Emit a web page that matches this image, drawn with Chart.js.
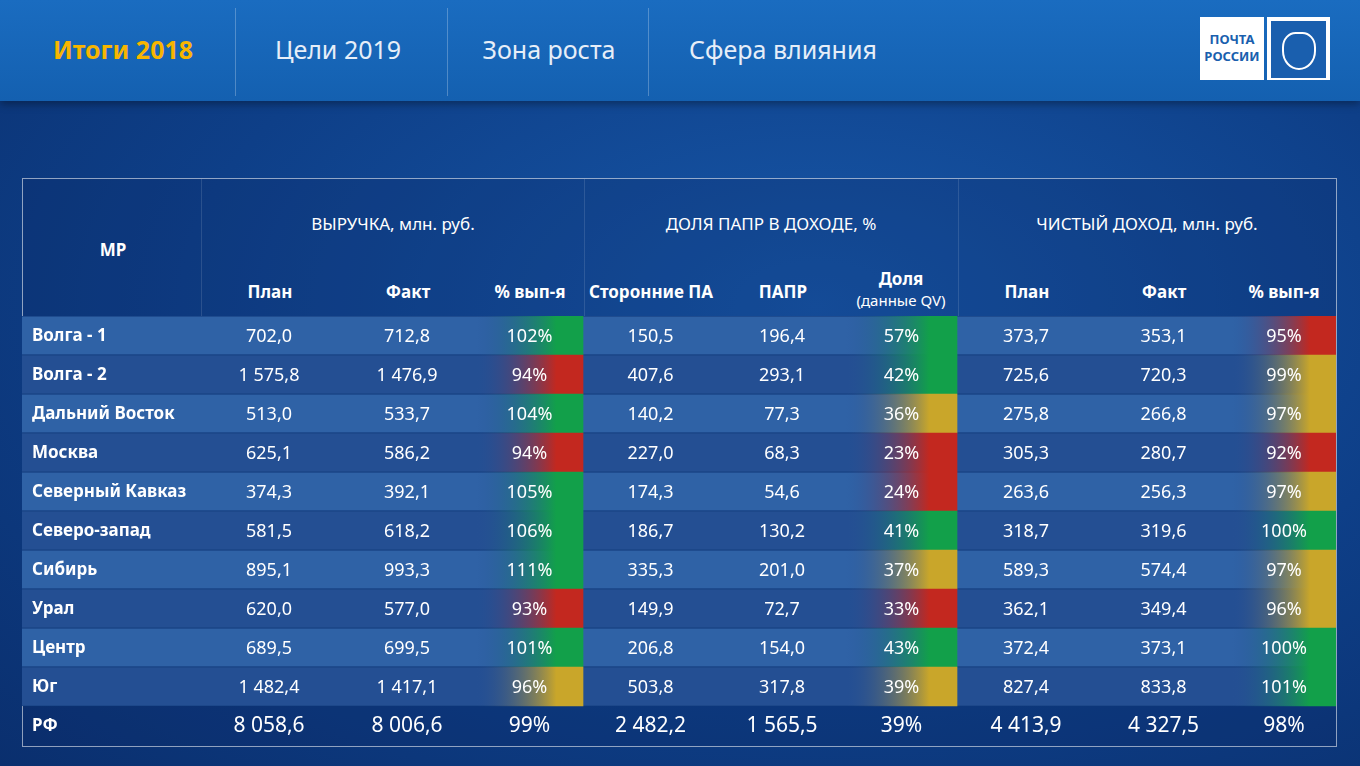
<!DOCTYPE html>
<html><head><meta charset="utf-8">
<script src="https://cdn.jsdelivr.net/npm/chart.js@4"></script>
<style>
body{margin:0;width:1360px;height:766px;overflow:hidden;font-family:"Noto Sans",sans-serif;color:#fff;
 background:radial-gradient(ellipse at 60% 40%,#1757a8 0%,#0e3f88 55%,#0a2f6e 100%);position:relative}
#top{position:absolute;left:0;top:0;width:1360px;height:101px;background:linear-gradient(180deg,#1a6cc0,#1460b0);box-shadow:0 3px 8px rgba(0,0,0,.35)}
.tab{position:absolute;top:32px;font-size:25px;color:#e6eef8;transform:translateX(-50%)}
.sep{position:absolute;top:8px;width:1px;height:88px;background:rgba(255,255,255,.25)}
.logo{position:absolute;top:17px;height:63px;background:#fff}
#tbl{position:absolute;left:22px;top:178px;width:1313px;height:567px;border:1px solid rgba(255,255,255,.55);background:rgba(10,40,100,.25)}
.h{position:absolute;font-weight:bold;font-size:17px;text-align:center;transform:translate(-50%,-50%);white-space:nowrap}
.g{position:absolute;font-size:17px;transform:translate(-50%,-50%);white-space:nowrap}
.vl{position:absolute;top:0;width:1px;height:138px;background:rgba(255,255,255,.12)}
#wrap{position:absolute;left:22px;top:316px;width:1314px;height:429px}
</style></head><body>
<div id="top">
 <div class="tab" style="left:123px;color:#f7b500;font-weight:bold">Итоги 2018</div>
 <div class="sep" style="left:235px"></div>
 <div class="tab" style="left:338px">Цели 2019</div>
 <div class="sep" style="left:447px"></div>
 <div class="tab" style="left:549px">Зона роста</div>
 <div class="sep" style="left:648px"></div>
 <div class="tab" style="left:783px">Сфера влияния</div>
 <div class="logo" style="left:1200px;width:64px;color:#1a5fae;font-weight:bold;font-size:13px;line-height:17px;text-align:center;padding-top:14px;height:49px">ПОЧТА<br>РОССИИ</div>
 <div class="logo" style="left:1267px;width:63px;"><div style="margin:4px;height:55px;border:1px solid #1a5fae;background:#1a5fae"><div style="margin:10px auto;width:30px;height:34px;border:2px solid #fff;border-radius:40% 40% 50% 50%"></div></div></div>
</div>
<div id="tbl">
 <div class="vl" style="left:178px"></div><div class="vl" style="left:561px"></div><div class="vl" style="left:935px"></div>
 <div class="h" style="left:90px;top:70px">МР</div>
 <div class="g" style="left:370px;top:44px">ВЫРУЧКА, млн. руб.</div>
 <div class="g" style="left:748px;top:44px">ДОЛЯ ПАПР В ДОХОДЕ, %</div>
 <div class="g" style="left:1124px;top:44px">ЧИСТЫЙ ДОХОД, млн. руб.</div>
 <div class="h" style="left:247px;top:112px">План</div>
 <div class="h" style="left:385px;top:112px">Факт</div>
 <div class="h" style="left:507px;top:112px">% вып-я</div>
 <div class="h" style="left:628px;top:112px">Сторонние ПА</div>
 <div class="h" style="left:760px;top:112px">ПАПР</div>
 <div class="h" style="left:878px;top:110px;line-height:21px">Доля<br><span style="font-weight:normal;font-size:15px">(данные QV)</span></div>
 <div class="h" style="left:1004px;top:112px">План</div>
 <div class="h" style="left:1141px;top:112px">Факт</div>
 <div class="h" style="left:1261px;top:112px">% вып-я</div>
</div>
<div id="wrap"><canvas id="c"></canvas></div>
<script>
// ── данные таблицы ──
const regions    = ['Волга - 1','Волга - 2','Дальний Восток','Москва','Северный Кавказ','Северо-запад','Сибирь','Урал','Центр','Юг','РФ'];
const revPlan    = [702.0,1575.8,513.0,625.1,374.3,581.5,895.1,620.0,689.5,1482.4,8058.6];
const revFact    = [712.8,1476.9,533.7,586.2,392.1,618.2,993.3,577.0,699.5,1417.1,8006.6];
const revPct     = [102,94,104,94,105,106,111,93,101,96,99];
const thirdParty = [150.5,407.6,140.2,227.0,174.3,186.7,335.3,149.9,206.8,503.8,2482.2];
const papr       = [196.4,293.1,77.3,68.3,54.6,130.2,201.0,72.7,154.0,317.8,1565.5];
const paprShare  = [57,42,36,23,24,41,37,33,43,39,39];
const netPlan    = [373.7,725.6,275.8,305.3,263.6,318.7,589.3,362.1,372.4,827.4,4413.9];
const netFact    = [353.1,720.3,266.8,280.7,256.3,319.6,574.4,349.4,373.1,833.8,4327.5];
const netPct     = [95,99,97,92,97,100,97,96,100,101,98];
// статус ячеек (g/r/y), по картинке
const revState   = ['g','r','g','r','g','g','g','r','g','y'];
const shareState = ['g','g','y','r','r','g','y','r','g','y'];
const netState   = ['r','y','y','r','y','g','y','y','g','g'];

// ── раскладка колонок (px внутри таблицы) ──
const EDGES = [0,178,316,454,561,696,824,935,1073,1210,1314];
const STATE_COLORS = { g:'#12a04a', r:'#c3281f', y:'#c9a62a' };
const N = regions.length - 1;

function fmt(v) {
    const [i, d] = v.toFixed(1).split('.');
    return i.replace(/\B(?=(\d{3})+(?!\d))/g, ' ') + ',' + d;
}

function gradFill(states, col) {
    return ctx => {
        const chart = ctx.chart, area = chart.chartArea;
        if (!area) return 'transparent';
        const x = chart.scales.x;
        const x0 = x.getPixelForValue(EDGES[col]), x1 = x.getPixelForValue(EDGES[col + 1]);
        const g = chart.ctx.createLinearGradient(x0, 0, x1, 0);
        const c = STATE_COLORS[states[ctx.dataIndex]];
        g.addColorStop(0, 'rgba(40,80,150,0)');
        g.addColorStop(0.75, c);
        g.addColorStop(1, c);
        return g;
    };
}

function cellBars(col) {
    return regions.slice(0, N).map(() => [EDGES[col], EDGES[col + 1]]);
}

const textPlugin = {
    id: 'cellText',
    afterDatasetsDraw(chart) {
        const { ctx, scales: { x, y } } = chart;
        const cols = [revPlan.map(fmt), revFact.map(fmt), revPct.map(v => v + '%'),
                      thirdParty.map(fmt), papr.map(fmt), paprShare.map(v => v + '%'),
                      netPlan.map(fmt), netFact.map(fmt), netPct.map(v => v + '%')];
        ctx.save();
        ctx.fillStyle = '#fff';
        ctx.textBaseline = 'middle';
        regions.forEach((name, r) => {
            const yy = y.getPixelForValue(r) + 1;
            const last = r === N;
            ctx.font = 'bold 17px "Noto Sans"';
            ctx.textAlign = 'left';
            ctx.fillText(name, x.getPixelForValue(10), yy);
            ctx.font = (last ? '21px' : '18px') + ' "Noto Sans"';
            ctx.textAlign = 'center';
            cols.forEach((vals, c) => {
                const xc = (x.getPixelForValue(EDGES[c + 1]) + x.getPixelForValue(EDGES[c + 2])) / 2;
                ctx.fillText(vals[r], xc, yy);
            });
        });
        ctx.restore();
    }
};

new Chart(document.getElementById('c'), {
    type: 'bar',
    data: {
        labels: regions,
        datasets: [
            { data: cellBars(3), backgroundColor: gradFill(revState, 3), grouped: false },
            { data: cellBars(6), backgroundColor: gradFill(shareState, 6), grouped: false },
            { data: cellBars(9), backgroundColor: gradFill(netState, 9), grouped: false },
            { data: regions.slice(0, N).map(() => [EDGES[0], EDGES[10]]),
              backgroundColor: regions.slice(0, N).map((_, i) => i % 2 ? '#244f93' : '#2f62a6'),
              borderColor: '#1b4687', borderWidth: { top: 1, bottom: 1 }, borderSkipped: false,
              grouped: false }
        ]
    },
    options: {
        indexAxis: 'y',
        responsive: true,
        maintainAspectRatio: false,
        animation: false,
        barPercentage: 1,
        categoryPercentage: 1,
        layout: { padding: 0 },
        plugins: { legend: { display: false }, tooltip: { enabled: false } },
        scales: {
            x: { type: 'linear', min: 0, max: 1314, display: false },
            y: { display: false }
        }
    },
    plugins: [textPlugin]
});
</script>
</body></html>
